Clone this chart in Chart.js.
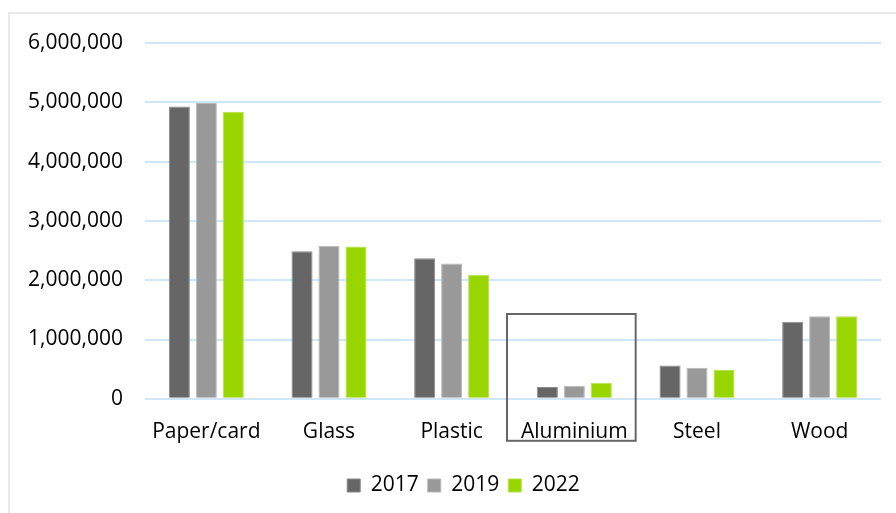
<!DOCTYPE html>
<html>
<head>
<meta charset="utf-8">
<script src="https://cdn.jsdelivr.net/npm/chart.js@4.4.1/dist/chart.umd.min.js"></script>
<style>
  html, body { margin: 0; padding: 0; background: #fff; overflow: hidden; }
  #wrap { position: relative; width: 896px; height: 513px; }
  #frame { position: absolute; left: 8px; top: 12px; width: 1000px; height: 1000px;
           border: 2px solid #e9e9e9; box-sizing: border-box; }
  canvas { position: absolute; left: 0; top: 0; }
</style>
</head>
<body>
<div id="wrap">
  <div id="frame"></div>
  <canvas id="c" width="896" height="513"></canvas>
</div>
<script>
// Packaging material tonnages by year
const categories = ['Paper/card', 'Glass', 'Plastic', 'Aluminium', 'Steel', 'Wood'];
const years = ['2017', '2019', '2022'];
const values2017 = [4930000, 2490000, 2370000, 200000, 560000, 1300000];
const values2019 = [4990000, 2580000, 2280000, 220000, 525000, 1390000];
const values2022 = [4840000, 2570000, 2090000, 270000, 487000, 1390000];
const yTicks = [0, 1000000, 2000000, 3000000, 4000000, 5000000, 6000000];

const fills = ['#666666', '#999999', '#99d600'];
const edges = ['#8a8a8a', '#b8b8b8', '#b5e24a'];
const textColor = '#000000';
const font = { family: 'Open Sans', size: 21 };

// Outline around the highlighted category
const highlight = { index: 3, topValue: 1430000 };
const highlightBox = {
  id: 'highlightBox',
  afterDatasetsDraw(chart) {
    const { ctx, scales: { x, y }, chartArea } = chart;
    const cx = x.getPixelForValue(highlight.index);
    const half = (x.getPixelForValue(1) - x.getPixelForValue(0)) / 2 + 3;
    const top = y.getPixelForValue(highlight.topValue);
    const bottom = chartArea.bottom + 42;
    ctx.save();
    ctx.strokeStyle = '#666666';
    ctx.lineWidth = 2;
    ctx.strokeRect(cx - half - 3, top, half * 2, bottom - top);
    ctx.restore();
  }
};

// Nudge the legend row to the right of the plot centre
const legendShift = {
  id: 'legendShift',
  afterLayout(chart) {
    const lg = chart.legend;
    if (lg) { lg.left += 18; lg.right += 18; }
  }
};

const series = [values2017, values2019, values2022];
new Chart(document.getElementById('c'), {
  type: 'bar',
  data: {
    labels: categories,
    datasets: years.map((yr, i) => ({
      label: yr,
      data: series[i],
      backgroundColor: fills[i],
      borderColor: edges[i],
      borderWidth: 1,
      categoryPercentage: 0.66,
      barPercentage: 0.78
    }))
  },
  options: {
    responsive: false,
    animation: false,
    layout: { padding: { left: 10, right: 15, top: 43, bottom: 7 } },
    plugins: {
      tooltip: { enabled: false },
      legend: {
        position: 'bottom',
        labels: {
          boxWidth: 13, boxHeight: 13, padding: 9,
          color: textColor,
          font: font
        }
      }
    },
    scales: {
      x: {
        grid: { display: false, drawTicks: false },
        border: { display: false },
        ticks: { color: textColor, padding: 21, font: font }
      },
      y: {
        min: 0, max: 6000000,
        afterFit(s) { s.width = 135; },
        afterBuildTicks(s) { s.ticks = yTicks.map(v => ({ value: v })); },
        grid: { color: '#cfe7f9', lineWidth: 2, drawTicks: false },
        border: { display: false },
        ticks: {
          color: textColor, padding: 22,
          font: font,
          callback: v => Number(v).toLocaleString('en-US')
        }
      }
    }
  },
  plugins: [highlightBox, legendShift]
});
</script>
</body>
</html>
